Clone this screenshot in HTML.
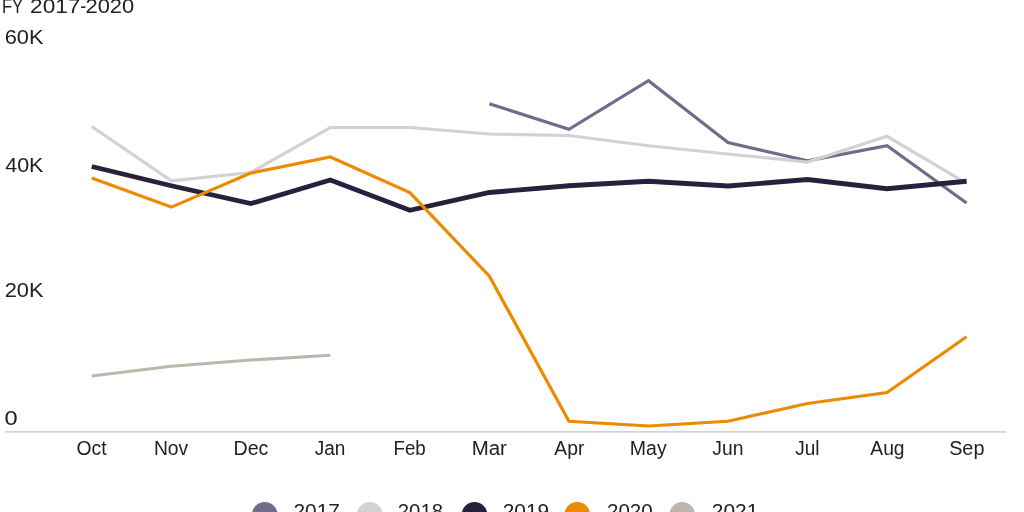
<!DOCTYPE html>
<html lang="en"><head><meta charset="utf-8"><title>FY 2017-2020</title>
<style>
html,body{margin:0;padding:0;background:#fff;}
body{width:1024px;height:512px;overflow:hidden;position:relative;font-family:"Liberation Sans",Arial,sans-serif;}
svg{position:absolute;left:0;top:0;display:block}
text{font-family:"Liberation Sans",Arial,sans-serif;fill:#222;}
</style></head><body>
<svg width="1024" height="512" viewBox="0 0 1024 512">
<text y="13.3" font-size="20.8"><tspan x="2.03" textLength="20.82" lengthAdjust="spacingAndGlyphs">FY</tspan> <tspan x="30.11" textLength="50.29" lengthAdjust="spacingAndGlyphs">2017</tspan><tspan x="80.35" textLength="5.96" lengthAdjust="spacingAndGlyphs">-</tspan><tspan x="85.45" textLength="48.76" lengthAdjust="spacingAndGlyphs">2020</tspan></text>
<text transform="translate(4.65,44) scale(1.0490,1.0)" font-size="20.8">60K</text>
<text transform="translate(5.18,172) scale(1.0345,1.0)" font-size="20.8">40K</text>
<text transform="translate(4.65,297) scale(1.0490,1.0)" font-size="20.8">20K</text>
<text transform="translate(4.61,425) scale(1.1342,1.0)" font-size="20.8">0</text>
<rect x="5" y="431" width="1001.3" height="1.7" fill="#d3d3d3"/>
<path d="M489.40,103.75 L568.93,129.25 L648.46,80.75 L727.99,142.50 L807.52,160.80 L887.05,145.75 L966.58,203.00" fill="none" stroke="#726b8c" stroke-width="3.2" stroke-linejoin="miter" stroke-linecap="butt"/>
<path d="M91.75,126.50 L171.28,180.90 L250.81,172.50 L330.34,127.50 L409.87,127.50 L489.40,134.00 L568.93,135.50 L648.46,145.75 L727.99,154.00 L807.52,162.00 L887.05,136.25 L966.58,183.30" fill="none" stroke="#d2d2d2" stroke-width="3.2" stroke-linejoin="miter" stroke-linecap="butt"/>
<path d="M91.75,166.50 L171.28,185.75 L250.81,203.60 L330.34,180.00 L409.87,210.30 L489.40,192.50 L568.93,185.75 L648.46,181.25 L727.99,186.00 L807.52,179.50 L887.05,188.75 L966.58,181.25" fill="none" stroke="#28213d" stroke-width="4.8" stroke-linejoin="miter" stroke-linecap="butt"/>
<path d="M91.75,178.00 L171.28,207.10 L250.81,173.10 L330.34,157.00 L409.87,192.60 L489.40,276.25 L568.93,421.25 L648.46,426.00 L727.99,421.25 L807.52,403.50 L887.05,392.50 L966.58,336.75" fill="none" stroke="#ec8b00" stroke-width="3.2" stroke-linejoin="miter" stroke-linecap="butt"/>
<path d="M91.75,376.00 L171.28,366.25 L250.81,360.00 L330.34,355.25" fill="none" stroke="#bfb6ab" stroke-width="3.2" stroke-linejoin="miter" stroke-linecap="butt"/>
<text transform="translate(76.47,455) scale(0.9312,1.0)" font-size="20.8">Oct</text>
<text transform="translate(153.88,455) scale(0.9281,1.0)" font-size="20.8">Nov</text>
<text transform="translate(233.45,455) scale(0.9444,1.0)" font-size="20.8">Dec</text>
<text transform="translate(314.66,455) scale(0.9134,1.0)" font-size="20.8">Jan</text>
<text transform="translate(393.42,455) scale(0.9023,1.0)" font-size="20.8">Feb</text>
<text transform="translate(471.68,455) scale(0.9837,1.0)" font-size="20.8">Mar</text>
<text transform="translate(554.28,455) scale(0.9286,1.0)" font-size="20.8">Apr</text>
<text transform="translate(629.86,455) scale(0.9360,1.0)" font-size="20.8">May</text>
<text transform="translate(712.35,455) scale(0.9291,1.0)" font-size="20.8">Jun</text>
<text transform="translate(795.26,455) scale(0.9126,1.0)" font-size="20.8">Jul</text>
<text transform="translate(870.28,455) scale(0.9268,1.0)" font-size="20.8">Aug</text>
<text transform="translate(949.15,455) scale(0.9537,1.0)" font-size="20.8">Sep</text>
<circle cx="264.75" cy="514.8" r="12.8" fill="#726b8c"/>
<text transform="translate(293.50,518.1) scale(1.0011,1.0)" font-size="20.8">2017</text>
<circle cx="369.75" cy="514.8" r="12.8" fill="#d2d2d2"/>
<text transform="translate(397.77,518.1) scale(0.9792,1.0)" font-size="20.8">2018</text>
<circle cx="474.5" cy="514.8" r="12.8" fill="#28213d"/>
<text transform="translate(502.74,518.1) scale(1.0056,1.0)" font-size="20.8">2019</text>
<circle cx="577.25" cy="514.8" r="12.8" fill="#ec8b00"/>
<text transform="translate(607.01,518.1) scale(0.9888,1.0)" font-size="20.8">2020</text>
<circle cx="682.25" cy="514.8" r="12.8" fill="#bfb6ab"/>
<text transform="translate(711.79,518.1) scale(1.0056,1.0)" font-size="20.8">2021</text>
</svg></body></html>
